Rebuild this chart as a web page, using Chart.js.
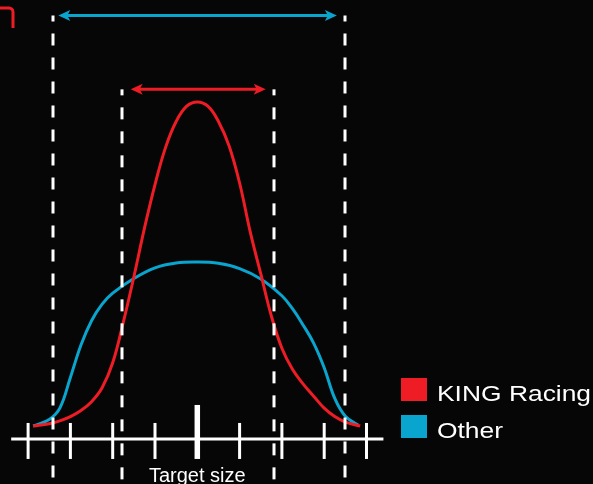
<!DOCTYPE html>
<html>
<head>
<meta charset="utf-8">
<script src="https://cdn.jsdelivr.net/npm/chart.js@4"></script>
<style>
  html, body { margin: 0; padding: 0; background: #060606; }
  #wrap { width: 593px; height: 484px; position: relative; }
</style>
</head>
<body>
<div id="wrap"><canvas id="myChart"></canvas></div>
<script>
    // size deviation from target (tick units) and relative frequency (peak = 100)
    const redX = [-3.88, -3.5, -3.25, -3.0, -2.75, -2.5, -2.25, -2.0, -1.75, -1.5, -1.25, -1.0, -0.75, -0.5, -0.25, 0,
                  0.25, 0.5, 0.75, 1.0, 1.25, 1.5, 1.75, 2.0, 2.25, 2.5, 2.75, 3.0, 3.25, 3.5, 3.85];
    const redY = [0, 0.7, 1.6, 2.9, 4.8, 7.5, 11.8, 19.5, 32, 46, 61, 74.5, 86, 94, 98.7, 100,
                  98.7, 94, 86.5, 75, 60, 47, 34, 24, 17.5, 13, 9.2, 5.5, 2.9, 1.2, 0];

    const blueX = [-3.88, -3.5, -3.25, -3.0, -2.75, -2.5, -2.25, -2.0, -1.5, -1.0, -0.5, 0,
                   0.5, 1.0, 1.5, 2.0, 2.25, 2.5, 2.75, 3.0, 3.25, 3.5, 3.8];
    const blueY = [0, 2.0, 5.5, 15.0, 25, 32.5, 37.6, 41, 45.5, 48.8, 50.3, 50.6,
                   50.2, 48.6, 45.4, 40.2, 36.2, 31.2, 25.6, 18, 8.5, 3, 0.3];

    const ticks = [-4, -3, -2, -1, 0, 1, 2, 3, 4];
    const limits = [-3.40, -1.79, 1.82, 3.49];   // dashed lines
    const names = ['KING Racing', 'Other'];
    const axisLabel = 'Target size';

    const RED = '#EE1C25';
    const BLUE = '#0AA5CE';
    const FONT = '"Liberation Sans", Arial, sans-serif';

    function pts(xs, ys) {
        return xs.map(function (x, i) { return { x: x, y: ys[i] }; });
    }

    function arrow(c, x1, x2, y, color) {
        c.strokeStyle = color;
        c.fillStyle = color;
        c.lineWidth = 3;
        c.beginPath();
        c.moveTo(x1 + 8, y);
        c.lineTo(x2 - 8, y);
        c.stroke();
        [[x1, 1], [x2, -1]].forEach(function (a) {
            var tip = a[0], d = a[1];
            c.beginPath();
            c.moveTo(tip, y);
            c.lineTo(tip + d * 12, y - 5.5);
            c.lineTo(tip + d * 9, y);
            c.lineTo(tip + d * 12, y + 5.5);
            c.closePath();
            c.fill();
        });
    }

    const extras = {
        id: 'extras',
        afterDatasetsDraw: function (chart) {
            const c = chart.ctx;
            const x = chart.scales.x, y = chart.scales.y;
            c.save();

            // dashed limit lines
            c.strokeStyle = '#ffffff';
            c.lineWidth = 3;
            c.setLineDash([12, 12]);
            limits.forEach(function (v, i) {
                var px = Math.round(x.getPixelForValue(v));
                var top = (i === 0 || i === 3) ? y.getPixelForValue(126.7) : y.getPixelForValue(103.9);
                c.lineDashOffset = 6;
                c.beginPath();
                c.moveTo(px, top);
                c.lineTo(px, chart.height);
                c.stroke();
            });
            c.setLineDash([]);

            // axis
            var ay = y.getPixelForValue(-4);
            c.beginPath();
            c.moveTo(x.getPixelForValue(-4.4), ay);
            c.lineTo(x.getPixelForValue(4.4), ay);
            c.stroke();
            ticks.forEach(function (t) {
                var px = x.getPixelForValue(t);
                c.lineWidth = t === 0 ? 5.5 : 3;
                c.beginPath();
                c.moveTo(px, ay - (t === 0 ? 34 : 16));
                c.lineTo(px, ay + 20);
                c.stroke();
            });

            // arrows
            arrow(c, x.getPixelForValue(-3.286), x.getPixelForValue(3.30), y.getPixelForValue(126.7), BLUE);
            arrow(c, x.getPixelForValue(-1.575), x.getPixelForValue(1.617), y.getPixelForValue(103.9), RED);

            // axis label
            c.fillStyle = '#ffffff';
            c.font = '20px ' + FONT;
            c.textAlign = 'center';
            c.textBaseline = 'alphabetic';
            c.fillText(axisLabel, x.getPixelForValue(0), 482);

            // legend
            c.textAlign = 'left';
            c.font = '22px ' + FONT;
            [RED, BLUE].forEach(function (col, i) {
                var top = 378 + i * 37;
                c.fillStyle = col;
                c.fillRect(401, top, 26, 23);
                c.fillStyle = '#ffffff';
                c.save();
                c.translate(437, top + 23);
                c.scale(1.2, 1);
                c.fillText(names[i], 0, 0);
                c.restore();
            });

            // cropped corner mark at top left
            c.strokeStyle = RED;
            c.lineWidth = 3;
            c.beginPath();
            c.moveTo(0, 8);
            c.arcTo(13, 8, 13, 28, 4);
            c.lineTo(13, 28);
            c.stroke();

            c.restore();
        }
    };

    const ctx = document.getElementById('myChart');
    var chart = new Chart(ctx, {
        type: 'line',
        data: {
            datasets: [{
                    label: names[0],
                    data: pts(redX, redY),
                    borderColor: RED,
                    borderWidth: 3,
                    pointRadius: 0,
                    tension: 0.4
                }, {
                    label: names[1],
                    data: pts(blueX, blueY),
                    borderColor: BLUE,
                    borderWidth: 3,
                    pointRadius: 0,
                    tension: 0.4
                }]
        },
        options: {
            responsive: true,
            maintainAspectRatio: false,
            animation: false,
            layout: { padding: 0 },
            plugins: {
                legend: { display: false },
                tooltip: { enabled: false }
            },
            scales: {
                x: { type: 'linear', min: -197.3 / 42.3, max: (593 - 197.3) / 42.3, display: false },
                y: { type: 'linear', min: -58 / 3.24, max: 426 / 3.24, display: false }
            }
        },
        plugins: [extras]
    });
</script>
</body>
</html>
